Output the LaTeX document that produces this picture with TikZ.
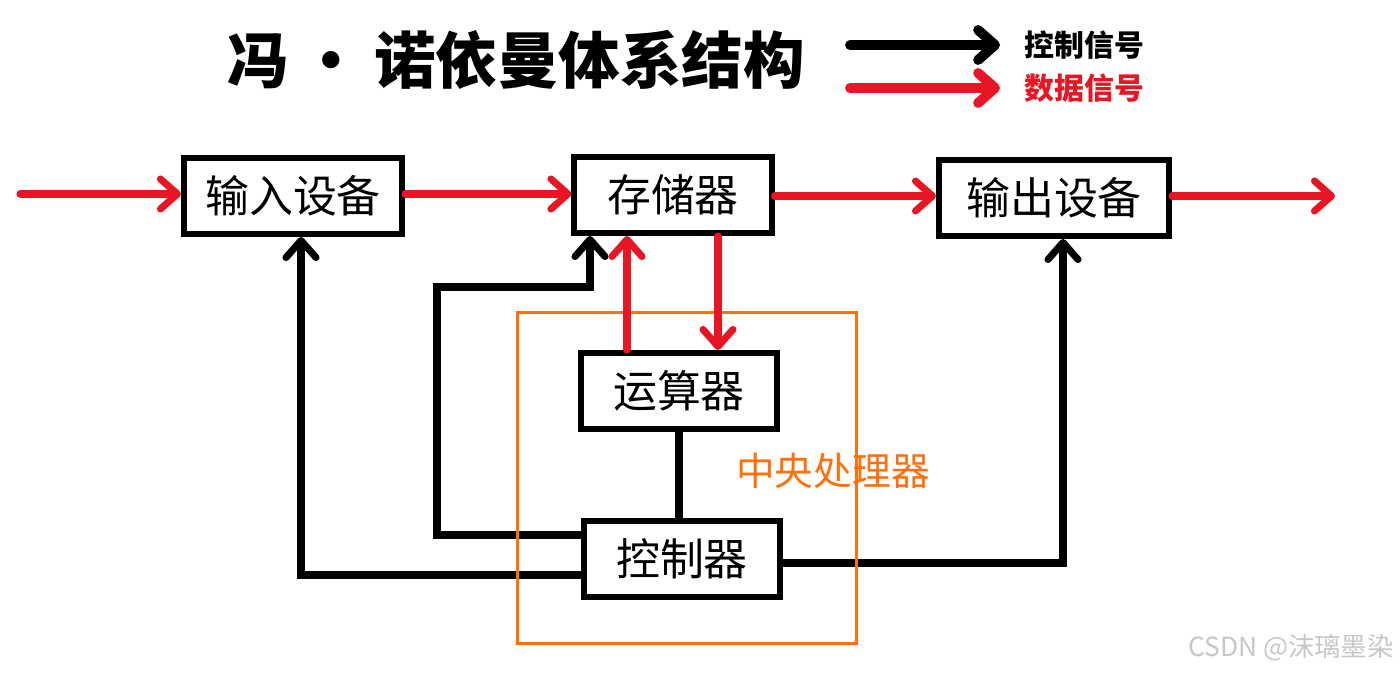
\documentclass[tikz,border=0pt]{standalone}
\usepackage{fontspec}
\usetikzlibrary{arrows.meta}
\newfontfamily\cjk{Noto Sans CJK SC}
\definecolor{datred}{RGB}{232,22,36}
\definecolor{cpuorange}{RGB}{255,112,10}
\tikzset{
  unit/.style={draw,line width=1.7pt,minimum height=0.76cm,inner sep=0pt,font=\cjk\fontsize{12.5}{14}\selectfont},
  wire/.style={line width=2pt,line cap=round},
  ctl/.style={wire,-{Straight Barb[length=0.17cm,width=0.3cm,round]}},
  dat/.style={ctl,datred}
}
\begin{document}
\begin{tikzpicture}[x=0.01cm,y=-0.01cm]
  \useasboundingbox (0,0) rectangle (1400,674);
  \node[font=\cjk\bfseries\fontsize{17.5}{20}\selectfont] (title) at (516,60)
    {冯\hspace{0.12cm}·\hspace{0.12cm}诺依曼体系结构};
  \foreach \y/\c/\t in {45/black/控制信号,88/datred/数据信号}
  \draw[ctl,\c,line width=2.8pt] (850,\y) -- (1000,\y)
    node[right,inner sep=0.2cm,text=\c,font=\cjk\bfseries\fontsize{8.5}{10}\selectfont] (key\y) {\t};
  \node[unit,minimum width=2.18cm] (in) at (293,196) {输入设备};
  \node[unit,minimum width=1.97cm] (mem) at (673,195) {存储器};
  \node[unit,minimum width=2.30cm] (out) at (1054,198) {输出设备};
  \node[unit,minimum width=1.96cm] (alu) at (679,391) {运算器};
  \node[unit,minimum width=1.95cm] (ctrl) at (682,559) {控制器};
  \coordinate (c1) at (437,535);
  \coordinate (c2) at (437,287);
  \coordinate (c3) at (590,287);
  \coordinate (d1) at (301,575);
  \coordinate (e1) at (1063,563);
  \draw[ctl] (ctrl.west |- c1) -- (c1) -- (c2) -- (c3) -- (c3 |- mem.south);
  \draw[ctl] (ctrl.west |- d1) -| (d1 |- in.south);
  \draw[ctl] (ctrl.east |- e1) -| (e1 |- out.south);
  \draw[wire] (alu.south) -- (alu.south |- ctrl.north);
  \node[draw=cpuorange,line width=0.85pt,minimum width=3.39cm,minimum height=3.31cm] (cpu) at (687,478) {};
  \node[text=cpuorange,font=\cjk\fontsize{11}{13}\selectfont] (cpulabel) at (833,471) {中央处理器};
  \coordinate (src) at (20,194);
  \coordinate (sink) at (1335,196);
  \coordinate (up) at (627,0);
  \coordinate (dn) at (718,0);
  \draw[dat] (src) -- (src -| in.west);
  \draw[dat] (src -| in.east) -- (src -| mem.west);
  \draw[dat] (sink -| mem.east) -- (sink -| out.west);
  \draw[dat] (sink -| out.east) -- (sink);
  \draw[dat] (up |- alu.north) -- (up |- mem.south);
  \draw[dat] (dn |- mem.south) -- (dn |- alu.north);
  \node[text=black!22,font=\cjk\fontsize{7.5}{9}\selectfont] (mark) at (1291,648) {CSDN @沫璃墨染};
\end{tikzpicture}
\end{document}
